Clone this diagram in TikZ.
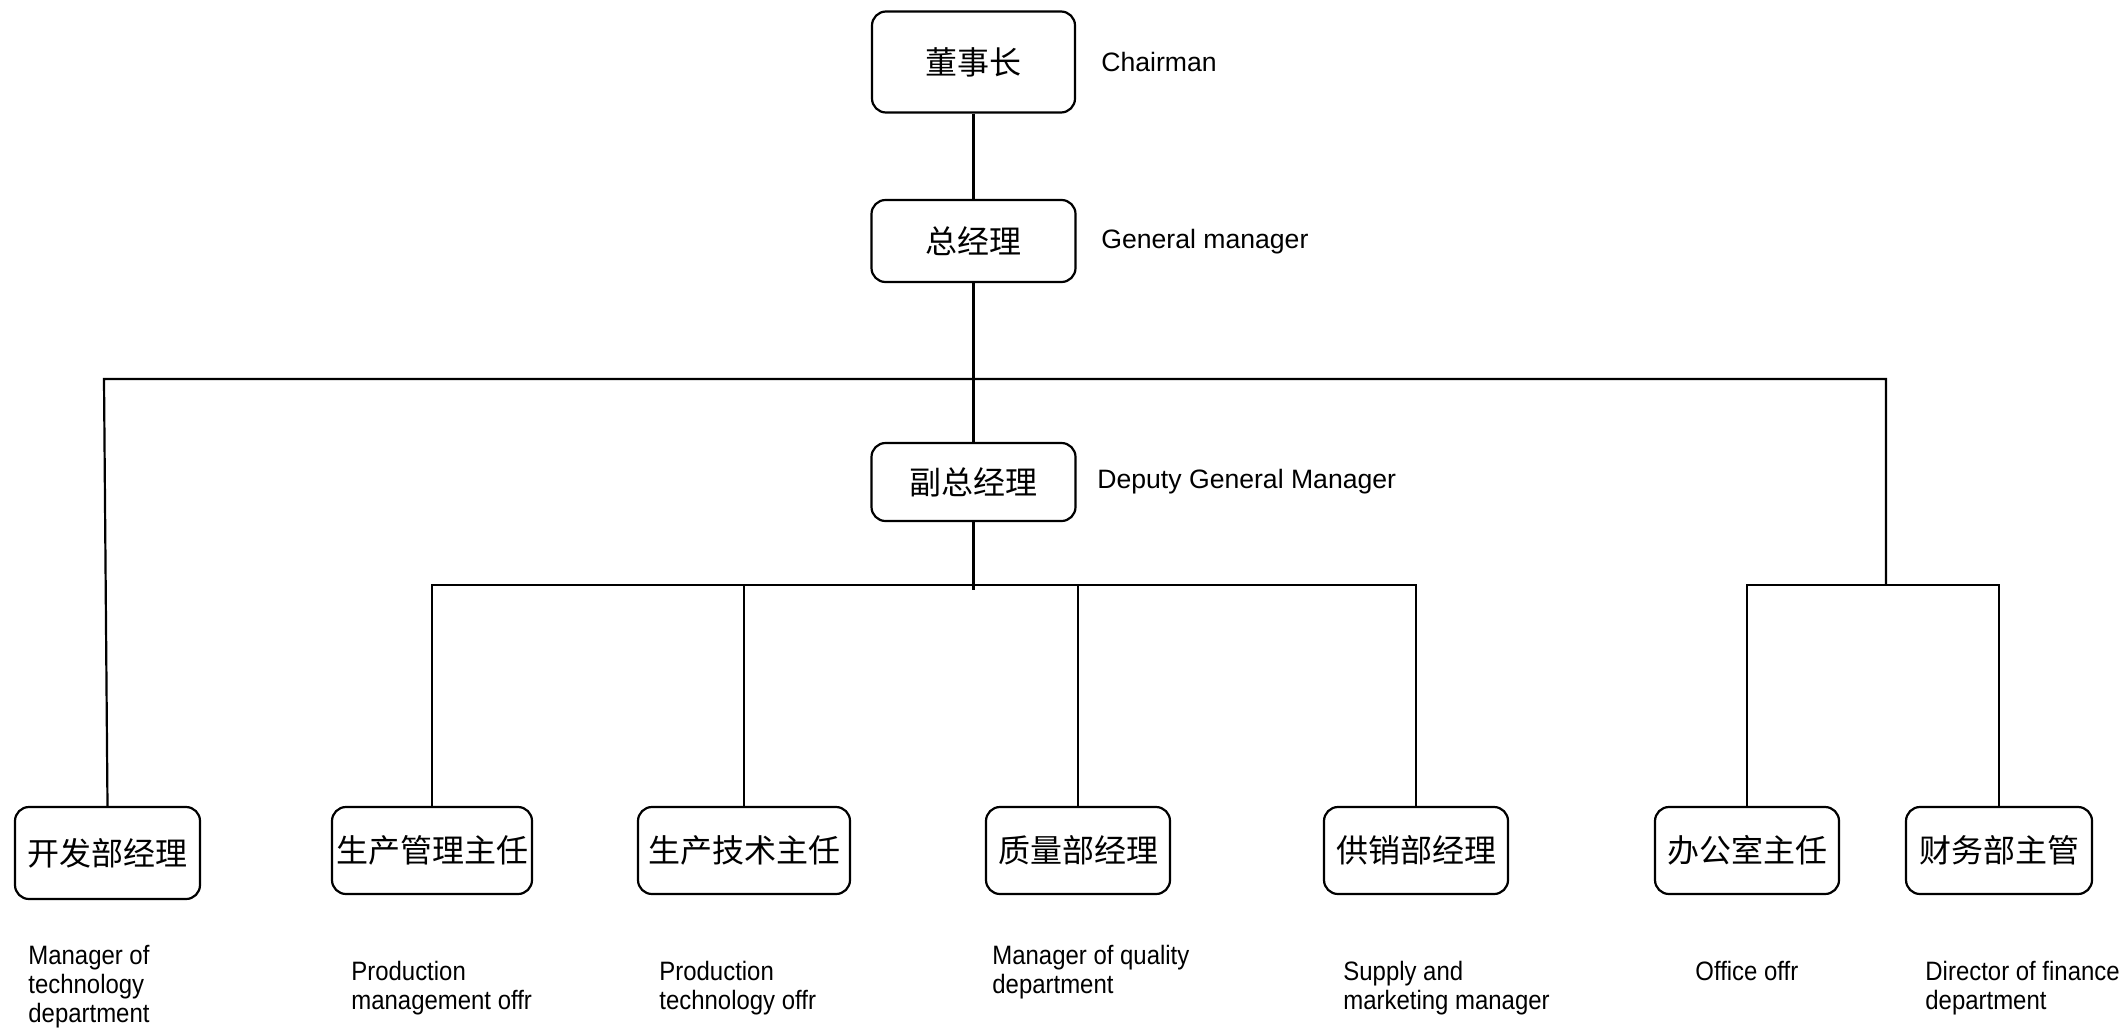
\documentclass[tikz,border=0pt]{standalone}
\usepackage{fontspec}
\setmainfont{Liberation Sans}
\newfontfamily\cjk{Noto Sans CJK SC}
\newfontfamily\narrowfont[FakeStretch=0.9]{Liberation Sans}
\begin{document}
\begin{tikzpicture}[x=0.5pt,y=-0.5pt,
  box/.style={draw, line width=1.1pt, rounded corners=7pt, inner sep=0pt, font=\cjk\fontsize{16pt}{18pt}\selectfont},
  conn/.style={line width=1.1pt},
  toplab/.style={anchor=west, inner sep=0pt, font=\fontsize{13.3pt}{15pt}\selectfont},
  botlab/.style={anchor=north west, inner sep=0pt, align=left, font=\narrowfont\fontsize{13.3pt}{14.5pt}\selectfont}]
\useasboundingbox (0,0) rectangle (2123,1028);
% top chain
\node[box, minimum width=101.5pt, minimum height=50.5pt] (ch) at (973.5,62) {董事长};
\node[box, minimum width=102pt, minimum height=41pt] (gm) at (973.5,241) {总经理};
\node[box, minimum width=102pt, minimum height=39pt] (dgm) at (973.5,482) {副总经理};
% bottom boxes
\node[box, minimum width=92.5pt, minimum height=46pt] (b1) at (107.5,853) {开发部经理};
\node[box, minimum width=100pt, minimum height=43.5pt] (b2) at (432,850.5) {生产管理主任};
\node[box, minimum width=106pt, minimum height=43.5pt] (b3) at (744,850.5) {生产技术主任};
\node[box, minimum width=92pt, minimum height=43.5pt] (b4) at (1078,850.5) {质量部经理};
\node[box, minimum width=92pt, minimum height=43.5pt] (b5) at (1416,850.5) {供销部经理};
\node[box, minimum width=92pt, minimum height=43.5pt] (b6) at (1747,850.5) {办公室主任};
\node[box, minimum width=93pt, minimum height=43.5pt] (b7) at (1999,850.5) {财务部主管};
% labels
\node[toplab] (lch) at (1101,62) {Chairman};
\node[toplab] (lgm) at (1101,242) {General manager};
\node[toplab] (ldgm) at (1097,482) {Deputy General Manager};
\node[botlab] (l1) at (28,945) {Manager of\\technology\\department};
\node[botlab] (l2) at (351,961) {Production\\management offr};
\node[botlab] (l3) at (659,961) {Production\\technology offr};
\node[botlab] (l4) at (992,945) {Manager of quality\\department};
\node[botlab] (l5) at (1343,961) {Supply and\\marketing manager};
\node[botlab] (l6) at (1695,961) {Office offr};
\node[botlab] (l7) at (1925,961) {Director of finance\\department};
% junction coordinates
\coordinate (tl) at (104,379);
\coordinate (tr) at (1886,379);
\coordinate (rb) at (1886,585);
\coordinate (db) at (973.5,585);
\coordinate (dbend) at (973.5,590);
% connectors
\draw[conn] (ch) -- (gm);
\draw[conn] (gm) -- (dgm);
\draw[conn] (b1.north) -- (tl) -- (tr) -- (rb);
\draw[conn] (b6.north) -- (b6.north |- rb) -- (b7.north |- rb) -- (b7.north);
\draw[conn] (dgm.south) -- (dbend);
\draw[conn] (b2.north) -- (b2.north |- db) -- (b5.north |- db) -- (b5.north);
\draw[conn] (b3.north) -- (b3.north |- db);
\draw[conn] (b4.north) -- (b4.north |- db);
\end{tikzpicture}
\end{document}
